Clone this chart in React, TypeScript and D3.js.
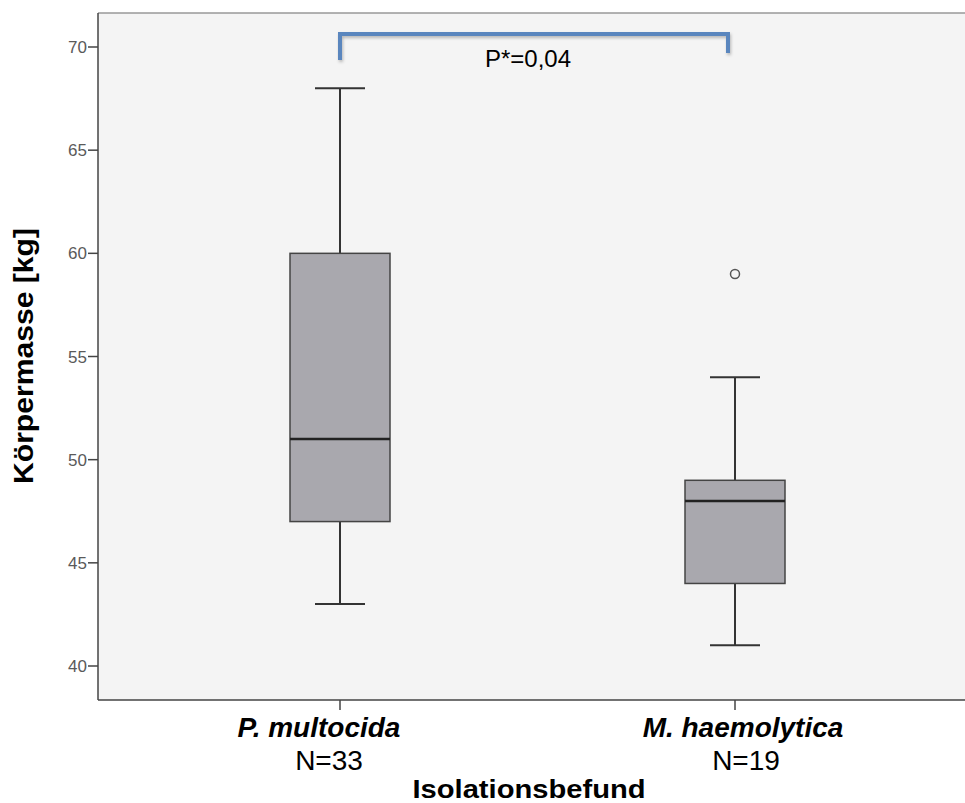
import React from "react";
import * as d3 from "d3";

const categories = ["P. multocida", "M. haemolytica"];
const counts = ["N=33", "N=19"];
const whiskerLow = [43, 41];
const q1 = [47, 44];
const median = [51, 48];
const q3 = [60, 49];
const whiskerHigh = [68, 54];
const outliers = [[], [59]];
const yTicks = [40, 45, 50, 55, 60, 65, 70];
const pLabel = "P*=0,04";

export default function App() {
  const W = 965, H = 803;
  const left = 98, top = 13, bottom = 700, right = 975;
  const y = d3.scaleLinear().domain([40, 70]).range([666, 47]);
  const x = d3.scalePoint<string>().domain(categories).range([340, 735]);
  const boxW = 100, capW = 50;
  const font = "Arial, 'Liberation Sans', sans-serif";
  const yTop = y(70) - 13;
  const labelShift = [-21, 8];
  const countShift = [-11, 11];

  return (
    <svg width={W} height={H} style={{ position: "absolute", left: 0, top: 0 }}>
      <defs>
        <filter id="sh" x="-10%" y="-50%" width="120%" height="200%">
          <feDropShadow dx="1" dy="2" stdDeviation="1.5" floodColor="#000" floodOpacity="0.25" />
        </filter>
      </defs>
      <rect x={0} y={0} width={W} height={H} fill="#fff" />
      <rect x={left} y={top} width={right - left} height={bottom - top} fill="#f4f4f4" />
      <line x1={left} x2={right} y1={top} y2={top} stroke="#999" strokeWidth={1.5} />
      <line x1={left} x2={left} y1={top} y2={bottom} stroke="#444" strokeWidth={1.5} />
      <line x1={left} x2={right} y1={bottom} y2={bottom} stroke="#444" strokeWidth={1.5} />
      {yTicks.map((t) => (
        <g key={t}>
          <line x1={left - 10} x2={left} y1={y(t)} y2={y(t)} stroke="#444" strokeWidth={1.5} />
          <text x={left - 11} y={y(t)} dy="0.36em" textAnchor="end" fontFamily={font} fontSize={17} fill="#5a5a5a">{t}</text>
        </g>
      ))}
      {categories.map((c, i) => {
        const cx = x(c)!;
        return (
          <g key={c}>
            <line x1={cx} x2={cx} y1={bottom} y2={bottom + 10} stroke="#444" strokeWidth={1.5} />
            <line x1={cx} x2={cx} y1={y(whiskerHigh[i])} y2={y(q3[i])} stroke="#333" strokeWidth={2} />
            <line x1={cx} x2={cx} y1={y(q1[i])} y2={y(whiskerLow[i])} stroke="#333" strokeWidth={2} />
            <line x1={cx - capW / 2} x2={cx + capW / 2} y1={y(whiskerHigh[i])} y2={y(whiskerHigh[i])} stroke="#333" strokeWidth={2} />
            <line x1={cx - capW / 2} x2={cx + capW / 2} y1={y(whiskerLow[i])} y2={y(whiskerLow[i])} stroke="#333" strokeWidth={2} />
            <rect x={cx - boxW / 2} y={y(q3[i])} width={boxW} height={y(q1[i]) - y(q3[i])} fill="#a9a8ae" stroke="#444" strokeWidth={1.5} />
            <line x1={cx - boxW / 2} x2={cx + boxW / 2} y1={y(median[i])} y2={y(median[i])} stroke="#222" strokeWidth={2.5} />
            {outliers[i].map((o, j) => (
              <circle key={j} cx={cx} cy={y(o)} r={4.5} fill="none" stroke="#555" strokeWidth={1.5} />
            ))}
            <text x={cx + labelShift[i]} y={737} textAnchor="middle" fontFamily={font} fontSize={28} fontWeight="bold" fontStyle="italic" fill="#000">{c}</text>
            <text x={cx + countShift[i]} y={770} textAnchor="middle" fontFamily={font} fontSize={28} fill="#000">{counts[i]}</text>
          </g>
        );
      })}
      <path
        d={`M${x(categories[0])},${yTop + 26} V${yTop} H${x(categories[1])! - 7} V${yTop + 19}`}
        fill="none" stroke="#5a86be" strokeWidth={4} filter="url(#sh)"
      />
      <text x={528} y={67} textAnchor="middle" fontFamily={font} fontSize={24} fill="#000">{pLabel}</text>
      <text x={529} y={798} textAnchor="middle" fontFamily={font} fontSize={25} fontWeight="bold" fill="#000" textLength={233} lengthAdjust="spacingAndGlyphs">Isolationsbefund</text>
      <text transform={`translate(33,356) rotate(-90)`} textAnchor="middle" fontFamily={font} fontSize={28} fontWeight="bold" fill="#000" textLength={256} lengthAdjust="spacingAndGlyphs">Körpermasse [kg]</text>
    </svg>
  );
}
